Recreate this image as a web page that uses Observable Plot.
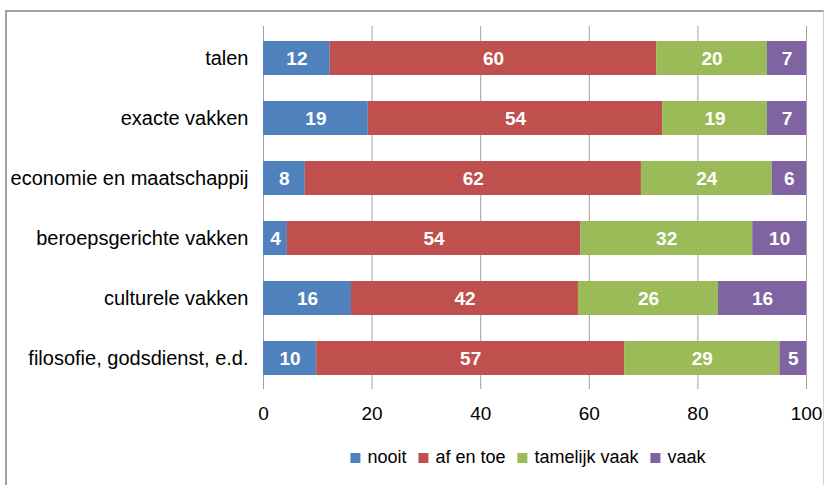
<!DOCTYPE html>
<html>
<head>
<meta charset="utf-8">
<script src="https://cdn.jsdelivr.net/npm/d3@7"></script>
<script src="https://cdn.jsdelivr.net/npm/@observablehq/plot@0.6"></script>
<style>
  body { margin: 0; background: #fff; font-family: "Liberation Sans", Arial, sans-serif; }
  #wrap { position: relative; width: 825px; height: 485px; overflow: hidden; background: #fff; }
  #frame { position: absolute; left: 5px; top: 10px; width: 816px; height: 500px;
           border-left: 2px solid #a0a0a0; border-top: 2px solid #a0a0a0; border-right: 1px solid #d4d4d4; }
  #chart { position: absolute; left: 0; top: 0; }
  #legend { position: absolute; top: 447px; left: 528px; transform: translateX(-50%);
            display: flex; align-items: center; white-space: nowrap; font-size: 18px; color: #000;
            font-family: "Liberation Sans", Arial, sans-serif; }
  .item { display: flex; align-items: center; margin: 0 6px; }
  .sw { width: 10px; height: 10px; margin-right: 7px; }
</style>
</head>
<body>
<div id="wrap">
  <div id="frame"></div>
  <div id="chart"></div>
  <div id="legend"></div>
</div>
<script>
// Categories (top to bottom)
const categories = [
  "talen",
  "exacte vakken",
  "economie en maatschappij",
  "beroepsgerichte vakken",
  "culturele vakken",
  "filosofie, godsdienst, e.d."
];
// Series names
const series = ["nooit", "af en toe", "tamelijk vaak", "vaak"];
const colors = ["#4F81BD", "#C0504D", "#9BBB59", "#8064A2"];
// Values (percent) per series
const nooit        = [12.3, 19.3,  7.7,  4.4, 16.2,  9.8];
const afEnToe      = [60.1, 54.2, 61.9, 54.0, 41.8, 56.7];
const tamelijkVaak = [20.4, 19.3, 24.1, 31.7, 25.8, 28.6];
const vaak         = [ 7.2,  7.2,  6.3,  9.9, 16.2,  4.9];
// Axis ticks
const xTicks = [0, 20, 40, 60, 80, 100];

const seriesValues = [nooit, afEnToe, tamelijkVaak, vaak];
const rows = [];
categories.forEach((c, i) => {
  series.forEach((s, j) => rows.push({cat: c, series: s, value: seriesValues[j][i]}));
});

const fmt = d3.format(".0f");

const chart = Plot.plot({
  width: 825,
  height: 440,
  marginLeft: 263,
  marginRight: 19,
  marginTop: 26,
  marginBottom: 51,
  style: {fontFamily: "'Liberation Sans', Arial, sans-serif", color: "#000", background: "transparent"},
  x: {domain: [0, 100]},
  y: {domain: categories, paddingInner: 0.44, paddingOuter: 0.22},
  color: {domain: series, range: colors},
  marks: [
    Plot.ruleX(xTicks, {stroke: "#a0a0a0", strokeWidth: 1}),
    Plot.barX(rows, Plot.stackX({x: "value", y: "cat", fill: "series", order: series})),
    Plot.text(rows, Plot.stackX({x: "value", y: "cat", z: "series", order: series,
      text: d => fmt(d.value), fill: "white", fontWeight: "bold", fontSize: 19})),
    Plot.axisX({ticks: xTicks, tickSize: 0, tickPadding: 17, fontSize: 19, label: null}),
    Plot.axisY({tickSize: 0, tickPadding: 15, fontSize: 20, label: null})
  ]
});
document.getElementById("chart").appendChild(chart);

const legend = document.getElementById("legend");
series.forEach((s, j) => {
  const it = document.createElement("div");
  it.className = "item";
  const sw = document.createElement("div");
  sw.className = "sw";
  sw.style.background = colors[j];
  const t = document.createElement("span");
  t.textContent = s;
  it.appendChild(sw);
  it.appendChild(t);
  legend.appendChild(it);
});
</script>
</body>
</html>
